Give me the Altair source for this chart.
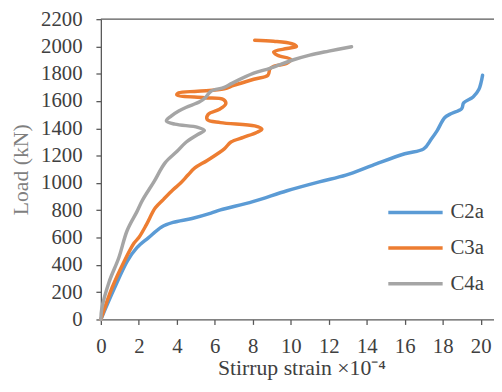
import altair as alt
import pandas as pd

series_names = ["C2a", "C3a", "C4a"]
series_colors = ["#5B9BD5", "#ED7D31", "#A5A5A5"]

x_ticks = [0, 2, 4, 6, 8, 10, 12, 14, 16, 18, 20]
y_ticks = [0, 200, 400, 600, 800, 1000, 1200, 1400, 1600, 1800, 2000, 2200]

c2a_strain = [0, 0.7, 1.4, 1.9, 2.5, 3.2, 3.8, 4.8, 5.8, 6.3, 8.0, 9.8, 11.5, 12.9, 14.3, 16.0,
              17.0, 17.4, 17.7, 18.1, 18.4, 19.0, 19.1, 19.6, 19.9, 20.1]
c2a_load = [0, 224, 429, 526, 598, 678, 711, 740, 779, 803, 863, 943, 1008, 1057, 1129, 1214,
            1250, 1322, 1382, 1478, 1505, 1545, 1587, 1630, 1684, 1790]

c3a_strain = [0, 0.6, 1.2, 1.75, 2.0, 2.4, 2.86, 3.3, 3.8, 4.2, 4.6, 4.95, 5.6, 6.5, 6.85, 7.5,
              8.2, 8.48, 8.1, 6.3, 5.6, 5.65, 6.25, 6.58, 6.45, 5.45, 4.0, 4.1, 5.1, 6.5, 7.0,
              8.05, 8.8, 8.9, 9.1, 9.8, 10.0, 9.3, 9.1, 9.8, 10.3, 10.05, 9.1, 8.1]
c3a_load = [0, 236, 418, 560, 600, 695, 816, 880, 950, 1000, 1060, 1110, 1165, 1250, 1300, 1334,
            1370, 1395, 1418, 1442, 1465, 1503, 1540, 1580, 1612, 1625, 1645, 1660, 1672, 1690, 1715,
            1760, 1790, 1835, 1855, 1877, 1905, 1935, 1960, 1985, 2000, 2020, 2038, 2046]

c4a_strain = [0, 0.05, 0.43, 0.95, 1.38, 1.9, 2.2, 2.8, 3.38, 4.0, 4.5, 5.1, 5.45, 5.1, 3.9, 3.45,
              3.7, 4.1, 4.5, 5.2, 5.5, 5.8, 6.5, 6.9, 8.05, 8.9, 10.1, 11.0, 12.0, 13.2]
c4a_load = [0, 80, 273, 454, 650, 790, 876, 1010, 1147, 1230, 1300, 1355, 1385, 1408, 1431, 1455,
            1490, 1527, 1555, 1595, 1625, 1672, 1700, 1730, 1804, 1840, 1901, 1937, 1966, 1998]

y_top = [2200]

rows = []
for name, xs, ys in [("C2a", c2a_strain, c2a_load),
                     ("C3a", c3a_strain, c3a_load),
                     ("C4a", c4a_strain, c4a_load)]:
    for i, (xv, yv) in enumerate(zip(xs, ys)):
        rows.append({"series": name, "strain": xv, "load": yv, "idx": i})
df = pd.DataFrame(rows)

FONT = "Liberation Serif"
AXIS_COLOR = "#595959"

y_enc = alt.Y("load:Q",
              scale=alt.Scale(domain=[0, 2200], nice=False),
              axis=alt.Axis(values=y_ticks, format="d", title="Load  (kN)",
                            titleX=-81, titleY=152, titleBaseline="middle",
                            titleAlign="center", titleAngle=-90, titleColor="#7f7f7f",
                            labelPadding=14))

lines = alt.Chart(df).mark_line(
    strokeWidth=3.5, strokeCap="round", strokeJoin="round", interpolate="catmull-rom"
).encode(
    x=alt.X("strain:Q",
            scale=alt.Scale(domain=[0, 20.7], nice=False, zero=False),
            axis=alt.Axis(values=x_ticks, format="d", title="Stirrup strain ×10⁻⁴",
                          titleX=203, titleY=56, titleBaseline="alphabetic",
                          titleAlign="center", titleColor="#404040",
                          labelPadding=11, labelFlush=False)),
    y=y_enc,
    color=alt.Color("series:N",
                    scale=alt.Scale(domain=series_names, range=series_colors),
                    legend=alt.Legend(title=None, orient="none", legendX=289, legendY=178,
                                      symbolType="stroke", symbolSize=3025,
                                      symbolStrokeWidth=3.5, labelFontSize=21,
                                      labelFont=FONT, labelColor="#404040",
                                      labelOffset=6, clipHeight=35.5, rowPadding=0,
                                      padding=0)),
    order=alt.Order("idx:Q"),
)

top_border = alt.Chart(pd.DataFrame({"load": y_top})).mark_rule(
    color=AXIS_COLOR, strokeWidth=1.3
).encode(y=y_enc)

chart = alt.layer(lines, top_border).properties(
    width=398, height=304,
    autosize=alt.AutoSizeParams(type="none"),
    padding={"left": 94, "top": 9, "right": 0, "bottom": 62},
).configure_view(stroke=None).configure_axis(
    grid=False, domainColor=AXIS_COLOR, tickColor=AXIS_COLOR, tickSize=5,
    domainWidth=1.3, tickWidth=1.3,
    labelFont=FONT, labelFontSize=21, labelColor="#404040",
    titleFont=FONT, titleFontSize=22, titleFontWeight="normal",
)

chart.save("out.html", embed_options={"renderer": "svg", "actions": False})
